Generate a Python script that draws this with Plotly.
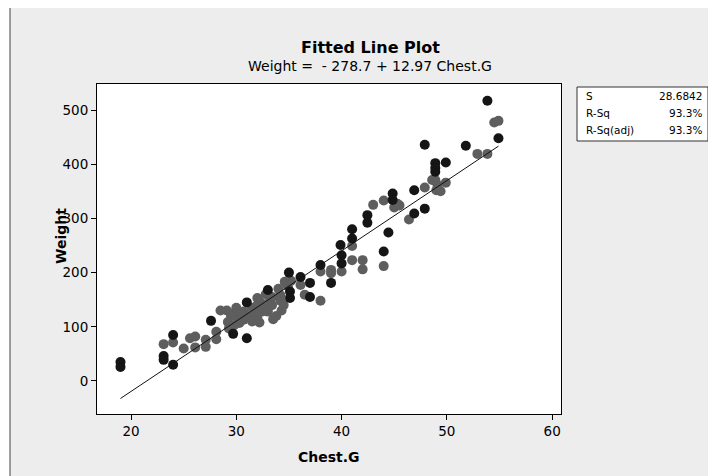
import plotly.graph_objects as go

# ---- data ----
chest_g = [19.0, 19.0, 23.1, 23.1, 23.1, 24.0, 24.0, 24.0, 25.0, 25.6,
           26.1, 26.1, 27.1, 27.1, 27.6, 28.1, 28.1, 28.5, 29.1, 29.2,
           29.3, 29.7, 29.9, 30.1, 30.3, 29.8, 31.0, 31.0, 30.7, 30.7,
           30.5, 31.3, 31.5, 32.0, 32.0, 32.0, 32.3, 32.4, 33.0, 32.8,
           33.4, 33.4, 33.5, 34.2, 34.2, 34.3, 34.6, 35.0, 35.1, 35.1,
           34.9, 36.1, 36.1, 37.0, 36.5, 37.0, 38.0, 38.0, 38.0, 39.0,
           39.0, 39.0, 39.9, 40.0, 40.0, 40.0, 41.0, 41.0, 41.0, 41.0,
           42.0, 42.0, 42.45, 42.45, 43.0, 44.0, 44.0, 44.0, 44.45, 44.85,
           44.85, 45.0, 45.3, 45.5, 46.9, 46.4, 46.9, 47.9, 47.9, 47.9,
           48.9, 48.9, 48.9, 48.6, 48.9, 49.1, 49.0, 49.4, 49.9, 49.9,
           51.8, 52.9, 53.85, 53.85, 54.5, 54.9, 54.9,
           31.5, 32.2, 33.0, 33.8, 34.5, 30.0, 29.5, 31.8, 32.6, 33.2,
           35.2, 34.0]
weight = [35, 26, 68, 46, 39, 85, 71, 30, 60, 79,
          82, 62, 76, 63, 111, 91, 77, 130, 130, 109,
          97, 87, 127, 117, 107, 103, 145, 79, 128, 113,
          122, 120, 135, 153, 140, 118, 145, 128, 168, 160,
          155, 140, 114, 158, 148, 130, 183, 200, 165, 153,
          175, 192, 177, 181, 159, 155, 148, 214, 202, 205,
          199, 181, 251, 232, 217, 202, 280, 263, 249, 223,
          223, 206, 306, 292, 325, 333, 239, 212, 274, 346,
          334, 320, 327, 324, 352, 298, 309, 318, 357, 436,
          402, 393, 386, 371, 371, 362, 352, 350, 366, 403,
          434, 419, 419, 517, 477, 480, 448,
          110, 108, 128, 120, 140, 135, 120, 127, 135, 148,
          185, 170]
shade = ["k", "k", "g", "k", "k", "k", "g", "k", "g", "g",
         "g", "g", "g", "g", "k", "g", "g", "g", "g", "g",
         "g", "k", "g", "g", "g", "g", "k", "k", "g", "g",
         "g", "g", "g", "g", "g", "g", "g", "g", "k", "g",
         "g", "g", "g", "g", "g", "g", "g", "k", "k", "k",
         "g", "k", "g", "k", "g", "k", "g", "k", "g", "g",
         "g", "k", "k", "k", "k", "g", "k", "k", "g", "g",
         "g", "g", "k", "k", "g", "g", "k", "g", "k", "k",
         "k", "g", "g", "g", "k", "g", "k", "k", "g", "k",
         "k", "k", "k", "g", "g", "g", "g", "g", "g", "k",
         "k", "g", "g", "k", "g", "g", "k",
         "g", "g", "g", "g", "g", "g", "g", "g", "g", "g",
         "g", "g"]

intercept = -278.7
slope = 12.97
x_ticks = [20, 30, 40, 50, 60]
y_ticks = [0, 100, 200, 300, 400, 500]
stat_names = ["S", "R-Sq", "R-Sq(adj)"]
stat_values = ["28.6842", "93.3%", "93.3%"]

# ---- layout geometry (pixels in the reference picture) ----
OFF = 8  # page body margin
W, H = 716 - OFF, 476 - OFF
L, R, T, B = 97 - OFF, 561 - OFF, 84 - OFF, 414 - OFF
PW, PH = R - L, B - T


def px(xp):
    return (xp - OFF - L) / PW


def py(yp):
    return (B - (yp - OFF)) / PH


FONT = "DejaVu Sans"
colors = {"k": "#151515", "g": "#5e5e5e"}

fig = go.Figure()
for key in ["g", "k"]:
    xs = [c for c, s in zip(chest_g, shade) if s == key]
    ys = [w for w, s in zip(weight, shade) if s == key]
    fig.add_trace(go.Scatter(x=xs, y=ys, mode="markers",
                             marker=dict(size=10, color=colors[key], line=dict(width=0)),
                             showlegend=False))

x_line = [min(chest_g), max(chest_g)]
y_line = [intercept + slope * v for v in x_line]
fig.add_trace(go.Scatter(x=x_line, y=y_line, mode="lines",
                         line=dict(color="#111111", width=1), showlegend=False))

shapes = [
    dict(type="rect", xref="paper", yref="paper", x0=px(10), x1=px(740), y0=py(500), y1=py(7),
         fillcolor="#ededed", line=dict(color="#444444", width=1), layer="below"),
    dict(type="rect", xref="paper", yref="paper", x0=0, x1=1, y0=0, y1=1,
         fillcolor="white", line=dict(width=0), layer="below"),
    dict(type="rect", xref="paper", yref="paper", x0=px(577), x1=px(708), y0=py(141), y1=py(87),
         fillcolor="white", line=dict(color="#333333", width=1)),
]

annotations = [
    dict(text="<b>Fitted Line Plot</b>", x=px(370), y=py(47), xref="paper", yref="paper",
         showarrow=False, xanchor="center", yanchor="middle",
         font=dict(family=FONT, size=16, color="black")),
    dict(text="Weight =\u00a0 - 278.7 + 12.97 Chest.G", x=px(370), y=py(66), xref="paper", yref="paper",
         showarrow=False, xanchor="center", yanchor="middle",
         font=dict(family=FONT, size=14, color="black")),
    dict(text="<b>Weight</b>", x=px(61), y=py(236), xref="paper", yref="paper", textangle=-90,
         showarrow=False, xanchor="center", yanchor="middle",
         font=dict(family=FONT, size=14, color="black")),
    dict(text="<b>Chest.G</b>", x=px(329), y=py(457), xref="paper", yref="paper",
         showarrow=False, xanchor="center", yanchor="middle",
         font=dict(family=FONT, size=14, color="black")),
]
rows_y = [96, 113, 130]
for name, val, yy in zip(stat_names, stat_values, rows_y):
    annotations.append(dict(text=name, x=px(584), y=py(yy), xref="paper", yref="paper",
                            showarrow=False, xanchor="left", yanchor="middle",
                            font=dict(family=FONT, size=10.5, color="black")))
    annotations.append(dict(text=val, x=px(704), y=py(yy), xref="paper", yref="paper",
                            showarrow=False, xanchor="right", yanchor="middle",
                            font=dict(family=FONT, size=10.5, color="black")))

fig.update_layout(
    width=W, height=H,
    margin=dict(l=L, r=W - R, t=T, b=H - B, pad=0),
    paper_bgcolor="white", plot_bgcolor="white",
    shapes=shapes, annotations=annotations,
    font=dict(family=FONT, color="black"),
)
fig.update_xaxes(range=[16.77, 60.84], tickvals=x_ticks, ticks="outside", ticklen=5,
                 tickcolor="black", showgrid=False, zeroline=False, showline=True,
                 linecolor="black", linewidth=1, mirror=True,
                 tickfont=dict(family=FONT, size=13.5, color="black"))
fig.update_yaxes(range=[-60.9, 548], tickvals=y_ticks, ticks="outside", ticklen=5,
                 tickcolor="black", showgrid=False, zeroline=False, showline=True,
                 linecolor="black", linewidth=1, mirror=True,
                 tickfont=dict(family=FONT, size=13.5, color="black"))

fig.write_html("out.html")
